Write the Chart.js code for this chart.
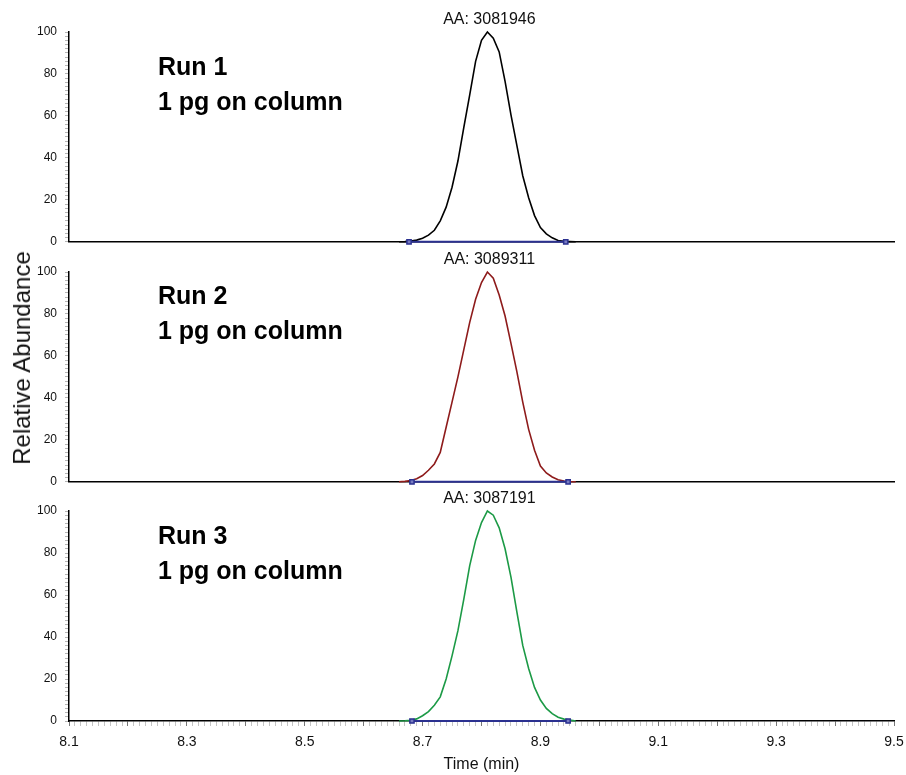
<!DOCTYPE html>
<html>
<head>
<meta charset="utf-8">
<script src="https://cdn.jsdelivr.net/npm/chart.js@4.4.0/dist/chart.umd.min.js"></script>
<style>
  html, body { margin: 0; padding: 0; background: #fff; }
  #app { position: relative; width: 906px; height: 775px; overflow: hidden; }
  #app canvas { position: absolute; left: 0; }
  #ytitle {
    position: absolute; left: 22px; top: 358px;
    transform: translate(-50%, -50%) rotate(-90deg);
    font: 24px "Liberation Sans", Arial, sans-serif; color: #111; white-space: nowrap;
  }
</style>
</head>
<body>
<div id="app">
  <canvas id="run1" width="906" height="257" style="top:0px"></canvas>
  <canvas id="run2" width="906" height="253" style="top:244px"></canvas>
  <canvas id="run3" width="906" height="289" style="top:486px"></canvas>
  <div id="ytitle">Relative Abundance</div>
</div>
<script>
"use strict";

// ── data ─────────────────────────────────────
const times = [8.66, 8.67, 8.68, 8.69, 8.70, 8.71, 8.72, 8.73, 8.74, 8.75, 8.76,
               8.77, 8.78, 8.79, 8.80, 8.81, 8.82, 8.83, 8.84, 8.85, 8.86,
               8.87, 8.88, 8.89, 8.90, 8.91, 8.92, 8.93, 8.94, 8.95, 8.96];

const run1 = [0, 0.1, 0.4, 0.8, 1.7, 3.2, 5.5, 10, 16.5, 26, 38.5,
              54.5, 70, 86, 96, 100, 97, 90.5, 76.5, 60.5, 46,
              31.5, 21, 12.5, 6.8, 3.8, 1.9, 0.6, 0.2, 0.1, 0];
const run2 = [0, 0.2, 0.6, 1.5, 3, 5.5, 8.5, 14, 26, 38, 50,
              63, 76, 87, 95, 100, 97, 89, 79, 66, 52.5,
              38, 25, 15, 7.5, 4.2, 2.3, 1.0, 0.4, 0.1, 0];
const run3 = [0, 0.1, 0.3, 1, 2.5, 4.5, 7.5, 11.5, 20, 31, 43,
              58, 74, 86, 94.5, 100, 98, 92, 82, 68.5, 52,
              36, 25, 16, 10, 6, 3.5, 1.8, 0.9, 0.4, 0];

const runNames   = ["Run 1", "Run 2", "Run 3"];
const areaLabels = ["AA: 3081946", "AA: 3089311", "AA: 3087191"];
const amountLabel = "1 pg on column";
const baseStart  = [8.677, 8.682, 8.682];   // integration start (min)
const baseEnd    = [8.943, 8.947, 8.947];   // integration end (min)

const xMin = 8.1, xMax = 9.5;
const yTicks = [0, 20, 40, 60, 80, 100];

// ── look ─────────────────────────────────────
const FONT = '"Liberation Sans", Arial, sans-serif';
const traceColors = ["#000000", "#8e1b1b", "#1c9a46"];
const BASE_BLUE = "#2b3190";

// per-panel canvas layout
const panels = [
  { id: "run1", padTop: 32, padBottom: 8, runY: 68, xAxis: false },
  { id: "run2", padTop: 28, padBottom: 8, runY: 53, xAxis: false },
  { id: "run3", padTop: 25, padBottom: 0, runY: 51, xAxis: true },
];

// Peak area label above the apex + run caption
const panelText = {
  id: "panelText",
  afterDatasetsDraw(chart, args, opts) {
    const { ctx, chartArea, scales } = chart;
    ctx.save();
    ctx.fillStyle = "#111";
    ctx.font = "16px " + FONT;
    ctx.textAlign = "center";
    ctx.textBaseline = "alphabetic";
    ctx.fillText(opts.area, scales.x.getPixelForValue(opts.peakTime) + 2, chartArea.top - 8);

    ctx.fillStyle = "#000";
    ctx.font = "bold 25px " + FONT;
    ctx.textAlign = "left";
    ctx.textBaseline = "middle";
    ctx.fillText(opts.run, 158, opts.runY);
    ctx.fillText(amountLabel, 158, opts.runY + 35);
    ctx.restore();
  },
};

const isMajorX = (v, every) => Math.round((v - xMin) * 100) % every === 0;

function buildChart(i, values) {
  const p = panels[i];
  const peakIdx = values.indexOf(Math.max(...values));

  const xScale = p.xAxis ? {
    type: "linear", min: xMin, max: xMax,
    ticks: {
      stepSize: 0.01, autoSkip: false, maxRotation: 0, padding: 8,
      color: "#111", font: { family: FONT, size: 14 },
      callback: (v) => (isMajorX(v, 20) ? v.toFixed(1) : ""),
    },
    grid: {
      drawOnChartArea: false, tickLength: 5,
      tickColor: (c) => (c.tick && isMajorX(c.tick.value, 10) ? "#777" : "#c4c4c4"),
    },
    border: { display: true, color: "#000", width: 1.5 },
    title: {
      display: true, text: "Time (min)", color: "#111",
      font: { family: FONT, size: 16 }, padding: { top: 2, bottom: 1 },
    },
    // end labels may hang past the plot edge; keep the plot width fixed
    afterFit: (s) => { s.height = 54; s.paddingLeft = 0; s.paddingRight = 0; },
  } : {
    type: "linear", min: xMin, max: xMax,
    ticks: { display: false },
    grid: { display: false, drawTicks: false },
    border: { display: true, color: "#000", width: 1.5 },
    afterFit: (s) => { s.height = 0; },
  };

  return new Chart(document.getElementById(p.id), {
    type: "line",
    data: {
      datasets: [
        {
          data: [{ x: baseStart[i], y: 0 }, { x: baseEnd[i], y: 0 }],
          borderColor: BASE_BLUE, borderWidth: 2,
          pointStyle: "rect", pointRadius: 3,
          pointBorderColor: BASE_BLUE, pointBackgroundColor: "#7a7dc2", pointBorderWidth: 1.5,
          clip: false,
        },
        {
          data: times.map((t, k) => ({ x: t, y: values[k] })),
          borderColor: traceColors[i], borderWidth: 1.6,
          pointRadius: 0, tension: 0, clip: false,
        },
      ],
    },
    options: {
      responsive: false,
      animation: false,
      events: [],
      layout: { padding: { top: p.padTop, bottom: p.padBottom, left: 0, right: 12 } },
      plugins: {
        legend: { display: false },
        tooltip: { enabled: false },
        panelText: { area: areaLabels[i], run: runNames[i], runY: p.runY, peakTime: times[peakIdx] },
      },
      scales: {
        x: xScale,
        y: {
          type: "linear", min: 0, max: 100,
          ticks: {
            stepSize: 2, autoSkip: false, padding: 8,
            color: "#111", font: { family: FONT, size: 12 },
            callback: (v) => (yTicks.includes(v) ? String(v) : ""),
          },
          grid: { drawOnChartArea: false, tickLength: 4, tickColor: "#b5b5b5" },
          border: { display: true, color: "#000", width: 1.5 },
          afterFit: (s) => { s.width = 69; },
        },
      },
    },
    plugins: [panelText],
  });
}

buildChart(0, run1);
buildChart(1, run2);
buildChart(2, run3);
</script>
</body>
</html>
